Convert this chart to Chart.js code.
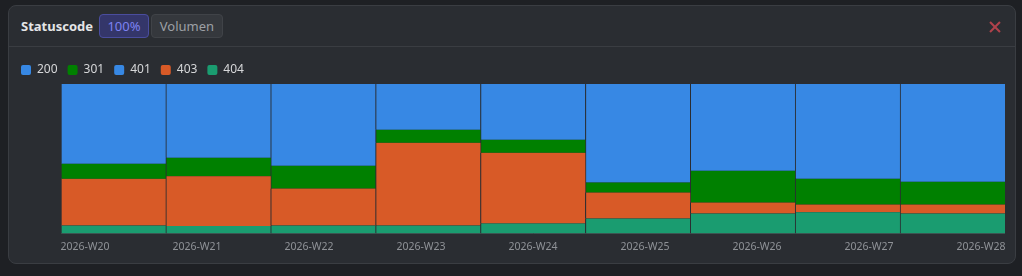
<!DOCTYPE html>
<html>
<head>
<meta charset="utf-8">
<script src="https://cdn.jsdelivr.net/npm/chart.js@4"></script>
<style>
  body { margin: 0; width: 1022px; height: 276px; background: #1e2024; font-family: "Noto Sans", sans-serif; overflow: hidden; }
  .card { position: absolute; left: 8px; top: 5px; width: 1008px; height: 259px; box-sizing: border-box;
          background: #2a2d32; border: 1px solid #3a3d42; border-radius: 8px; }
  .head { position: absolute; left: 0; top: 0; right: 0; height: 40px; border-bottom: 1px solid #3a3d42; }
  .title { position: absolute; left: 12px; top: 11px; font-size: 13px; font-weight: bold; color: #e4e5e7; }
  .btn { position: absolute; top: 8px; height: 24px; box-sizing: border-box; border-radius: 4px; font-size: 13px;
         line-height: 22px; text-align: center; }
  .btn.on { left: 90px; width: 50px; background: #34366a; border: 1px solid #4a4d9e; color: #7d82f2; }
  .btn.off { left: 142px; width: 72px; background: #35383d; border: 1px solid #404348; color: #9da0a5; }
  .close { position: absolute; left: 980px; top: 15px; width: 12px; height: 12px; }
  .close:before, .close:after { content: ""; position: absolute; left: -1px; top: 5px; width: 14px; height: 2px; background: #b0424b; }
  .close:before { transform: rotate(45deg); }
  .close:after { transform: rotate(-45deg); }
  #wrap { position: absolute; left: 11px; top: 54px; width: 994px; height: 206px; }
</style>
</head>
<body>
<div class="card">
  <div class="head">
    <div class="title">Statuscode</div>
    <div class="btn on">100%</div>
    <div class="btn off">Volumen</div>
    <div class="close"></div>
  </div>
</div>
<div id="wrap"><canvas id="chart"></canvas></div>
<script>
// weeks on the x axis
const weeks = ['2026-W20', '2026-W21', '2026-W22', '2026-W23', '2026-W24', '2026-W25', '2026-W26', '2026-W27', '2026-W28'];

// share per status code in percent (stacked to 100)
const s200 = [53.4, 49.4, 54.7, 30.7, 37.3, 66.0, 58.1, 63.4, 65.4];
const s301 = [10.0, 12.4, 15.3, 8.7, 8.7, 6.7, 21.3, 17.3, 15.3];
const s401 = [0, 0, 0, 0, 0, 0, 0, 0, 0];
const s403 = [31.3, 33.3, 24.7, 55.3, 47.3, 17.3, 7.3, 5.1, 6.0];
const s404 = [5.3, 4.9, 5.3, 5.3, 6.7, 10.0, 13.3, 14.2, 13.3];

const cardBg = '#2a2d32';
const axisCol = '#44474c';

function ds(label, data, color) {
  return {
    label: label,
    data: data,
    backgroundColor: color,
    borderColor: cardBg,
    borderWidth: {top: 0, right: 0, bottom: 0, left: 1},
    borderSkipped: false,
    barPercentage: 1,
    categoryPercentage: 1
  };
}

// stacked bottom-up: 404, 403, 401, 301, 200 (legend is reversed)
const chart = new Chart(document.getElementById('chart').getContext('2d'), {
  type: 'bar',
  data: {
    labels: weeks,
    datasets: [
      ds('404', s404, '#1a9c70'),
      ds('403', s403, '#d85a27'),
      ds('401', s401, '#3788e4'),
      ds('301', s301, '#008000'),
      ds('200', s200, '#3788e4')
    ]
  },
  options: {
    responsive: true,
    maintainAspectRatio: false,
    animation: false,
    plugins: {
      tooltip: { enabled: false },
      legend: {
        reverse: true,
        align: 'start',
        maxHeight: 30,
        labels: {
          color: '#d6d7d9',
          boxWidth: 10,
          boxHeight: 10,
          padding: 10,
          useBorderRadius: true,
          borderRadius: 2,
          font: { family: 'Noto Sans', size: 12 },
          generateLabels: (c) => Chart.defaults.plugins.legend.labels.generateLabels(c)
            .map(l => ({...l, lineWidth: 0, strokeStyle: l.fillStyle}))
        }
      }
    },
    scales: {
      x: { display: false, stacked: true },
      xl: {
        type: 'linear',
        position: 'bottom',
        offset: false,
        z: 1,
        min: -0.2143,
        max: 8.2143,
        afterBuildTicks: (s) => { s.ticks = weeks.map((w, i) => ({value: i})); },
        afterFit: (s) => { s.paddingLeft = 0; s.paddingRight = 0; },
        grid: { display: false, drawTicks: false },
        border: { display: true, color: axisCol, width: 1 },
        ticks: {
          padding: 7,
          maxRotation: 0,
          autoSkip: false,
          color: '#8f9297',
          font: { family: 'Noto Sans', size: 10.5 },
          callback: (v) => weeks[v]
        }
      },
      y: {
        stacked: true,
        min: 0,
        max: 100,
        z: 1,
        grid: { display: false, drawTicks: false },
        border: { display: true, color: axisCol, width: 1 },
        ticks: { display: false },
        afterFit: (s) => { s.width = 50; }
      }
    }
  }
});
</script>
</body>
</html>
